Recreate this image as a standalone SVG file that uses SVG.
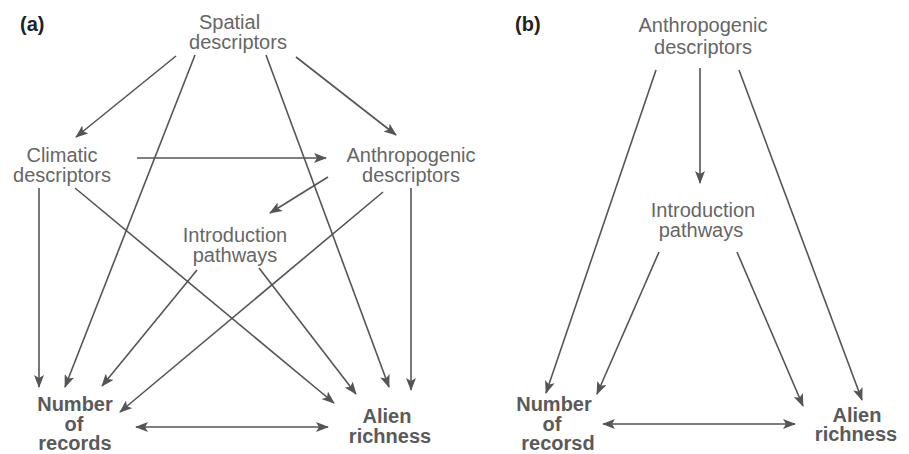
<svg xmlns="http://www.w3.org/2000/svg" width="909" height="454" viewBox="0 0 909 454">
<style>
.t{font-family:"Liberation Sans",Arial,sans-serif;font-size:20px;fill:#666;text-anchor:middle}
.b{font-family:"Liberation Sans",Arial,sans-serif;font-size:20px;font-weight:bold;fill:#5a5a5a;text-anchor:middle}
.p{font-family:"Liberation Sans",Arial,sans-serif;font-size:20px;font-weight:bold;fill:#222}
.c line{stroke:#555;stroke-width:1.6;fill:none;marker-end:url(#ah)}
.c line.d{marker-start:url(#ah)}
</style>
<defs>
<marker id="ah" viewBox="0 0 13 10" refX="12" refY="5" markerWidth="13" markerHeight="10" markerUnits="userSpaceOnUse" orient="auto-start-reverse">
<path d="M0,0 L13,5 L0,10 L3,5 z" fill="#555"/>
</marker>
</defs>
<rect width="909" height="454" fill="#fff"/>
<text class="p" x="20" y="31">(a)</text>
<text class="p" x="515" y="31">(b)</text>
<g id="a-spatial"><text class="t" x="229.5" y="29">Spatial</text><text class="t" x="238" y="49">descriptors</text></g>
<g id="a-climatic"><text class="t" x="62" y="162">Climatic</text><text class="t" x="62" y="182">descriptors</text></g>
<g id="a-anthro"><text class="t" x="411" y="162">Anthropogenic</text><text class="t" x="411" y="182">descriptors</text></g>
<g id="a-intro"><text class="t" x="235" y="242">Introduction</text><text class="t" x="235" y="262">pathways</text></g>
<g id="a-number"><text class="b" x="75" y="411">Number</text><text class="b" x="74" y="431">of</text><text class="b" x="75" y="450">records</text></g>
<g id="a-alien"><text class="b" x="387" y="423">Alien</text><text class="b" x="390" y="443">richness</text></g>
<g id="b-anthro"><text class="t" x="703" y="32">Anthropogenic</text><text class="t" x="703" y="54">descriptors</text></g>
<g id="b-intro"><text class="t" x="703" y="217">Introduction</text><text class="t" x="701" y="237">pathways</text></g>
<g id="b-number"><text class="b" x="554" y="411">Number</text><text class="b" x="552" y="431">of</text><text class="b" x="558" y="450">recorsd</text></g>
<g id="b-alien"><text class="b" x="857" y="422">Alien</text><text class="b" x="856" y="441">richness</text></g>
<g id="connectors" class="c">
<line x1="176" y1="56" x2="76" y2="137"/>
<line x1="296" y1="57" x2="396" y2="135"/>
<line x1="195" y1="55" x2="65" y2="387"/>
<line x1="266" y1="55" x2="389" y2="387"/>
<line x1="137" y1="158" x2="326" y2="158"/>
<line x1="39" y1="188" x2="39" y2="387"/>
<line x1="75" y1="188" x2="334" y2="403"/>
<line x1="328" y1="177" x2="270" y2="213"/>
<line x1="383" y1="192" x2="120" y2="412"/>
<line x1="411" y1="188" x2="411" y2="390"/>
<line x1="197" y1="270" x2="102" y2="386"/>
<line x1="259" y1="268" x2="356" y2="394"/>
<line class="d" x1="136" y1="427" x2="328" y2="427"/>
<line x1="700" y1="68" x2="700" y2="183"/>
<line x1="656" y1="70" x2="546" y2="393"/>
<line x1="739" y1="70" x2="862" y2="400"/>
<line x1="659" y1="252" x2="597" y2="394"/>
<line x1="737" y1="252" x2="803" y2="406"/>
<line class="d" x1="603" y1="424" x2="795" y2="424"/>
</g>
</svg>
